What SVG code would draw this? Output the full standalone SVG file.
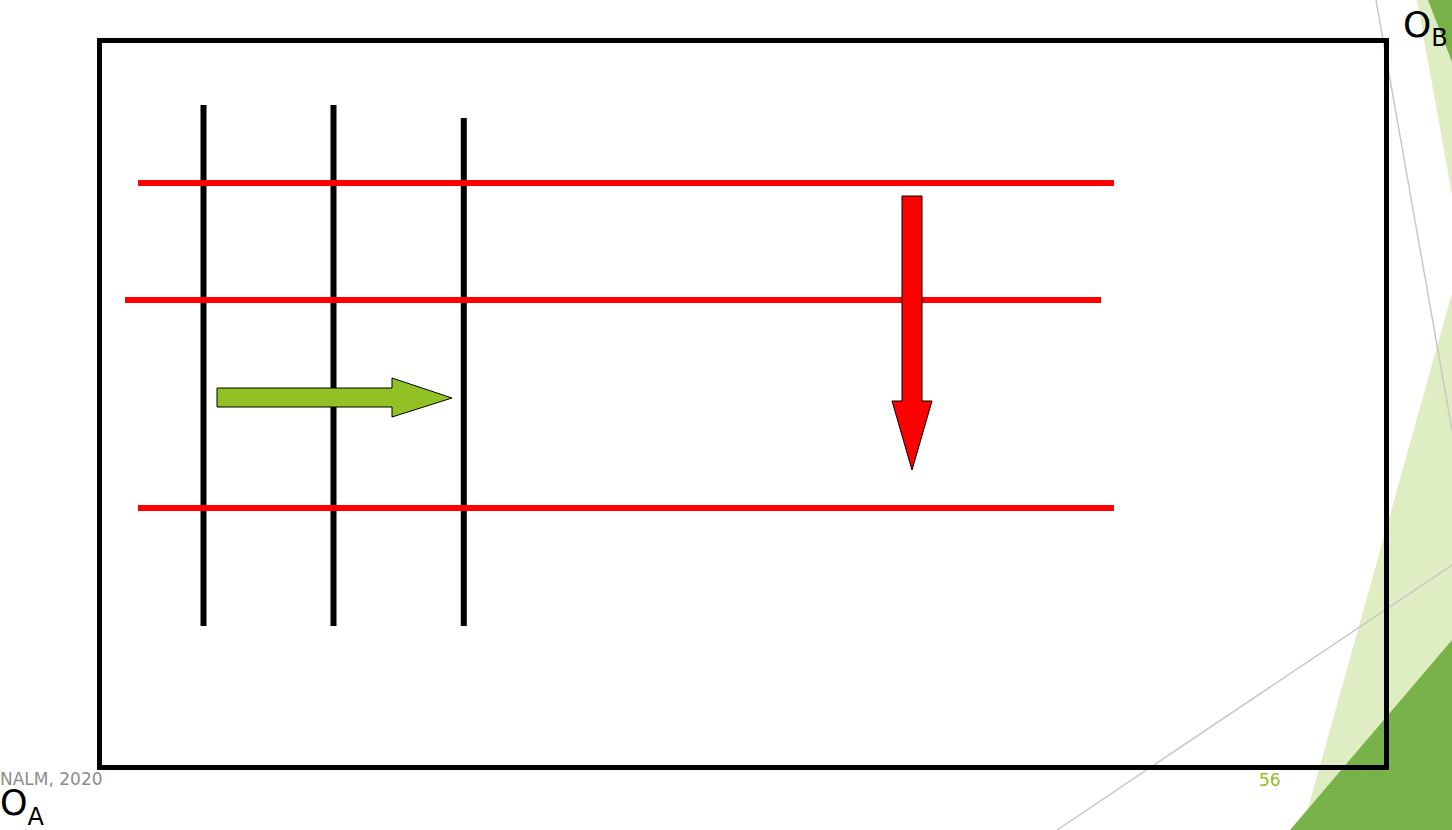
<svg xmlns="http://www.w3.org/2000/svg" width="1452" height="830" viewBox="0 0 1452 830">
<style>
.v{stroke:#000;stroke-width:6}
.h{stroke:#f00;stroke-width:6}
.bg{stroke:#c8c8c8;stroke-width:1.5;fill:none}
.lbl{font-family:"DejaVu Sans","Liberation Sans",sans-serif;fill:#000}
</style>
<rect width="1452" height="830" fill="#fff"/>
<g id="background">
<polygon points="1417,0 1452,0 1452,195" fill="#dfedc2"/>
<polygon points="1428,0 1452,0 1452,62" fill="#7ab24a"/>
<polygon points="1452,293 1452,830 1302,830" fill="#dfedc2"/>
<polygon points="1452,640 1452,830 1290,830" fill="#7ab24a"/>
<line class="bg" x1="1376" y1="0" x2="1452" y2="430"/>
<line class="bg" x1="1057" y1="830" x2="1452" y2="565"/>
</g>
<g id="frame">
<rect x="99.5" y="40.5" width="1287" height="727" fill="none" stroke="#000" stroke-width="5"/>
</g>
<g id="connectors">
<line class="v" x1="203.5" y1="105" x2="203.5" y2="626"/>
<line class="v" x1="333.5" y1="105" x2="333.5" y2="626"/>
<line class="v" x1="463.8" y1="118" x2="463.8" y2="626"/>
<line class="h" x1="138" y1="183" x2="1114" y2="183"/>
<line class="h" x1="125" y1="300" x2="1101" y2="300"/>
<line class="h" x1="138" y1="508" x2="1114" y2="508"/>
</g>
<g id="green-arrow">
<polygon points="217,388 392,388 392,378 452,398 392,417 392,407 217,407" fill="#92c125" stroke="#000" stroke-width="1"/>
</g>
<g id="red-arrow">
<polygon points="902,196 922,196 922,401 932,401 912,470 892,401 902,401" fill="#f00" stroke="#000" stroke-width="1"/>
</g>
<g id="label-OB">
<text class="lbl" x="1403" y="37" font-size="36">O<tspan font-size="24" dy="9">B</tspan></text>
</g>
<g id="label-OA">
<text class="lbl" x="0" y="815" font-size="35">O<tspan font-size="24" dy="10">A</tspan></text>
</g>
<text x="0" y="785" font-family="DejaVu Sans, sans-serif" font-size="17" fill="#8c8c8c">NALM, 2020</text>
<text x="1259" y="786" font-family="DejaVu Sans, sans-serif" font-size="17" fill="#92c125">56</text>
</svg>
